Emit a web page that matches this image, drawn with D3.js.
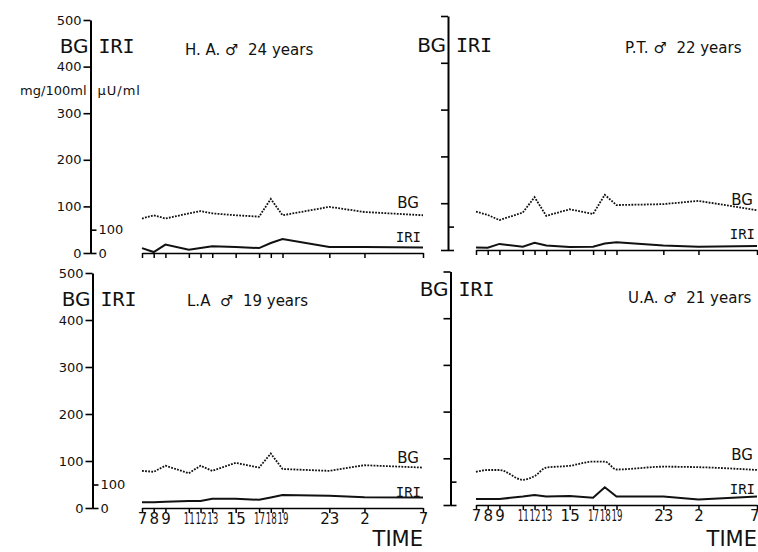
<!DOCTYPE html>
<html>
<head>
<meta charset="utf-8">
<script src="https://cdn.jsdelivr.net/npm/d3@7"></script>
<style>
body { margin: 0; background: #fff; }
svg text { font-family: "DejaVu Sans", sans-serif; fill: #111; white-space: pre; }
svg .mono { font-family: "DejaVu Sans Mono", monospace; }
</style>
</head>
<body>
<svg id="chart" width="758" height="552"></svg>
<script>
// sampling times (hours from 7 am, next morning = 31) and their labels
var times = [7, 8, 9, 11, 12, 13, 15, 17, 18, 19, 23, 26, 31];
var timeLabels = ["7", "8", "9", "11", "12", "13", "15", "17", "18", "19", "23", "2", "7"];
var bgTicks = [0, 100, 200, 300, 400, 500];
var iriTicks = [0, 100];

var subjects = ["H. A.", "P.T.", "L.A ", "U.A."];
var ages = ["24 years", "22 years", "19 years", "21 years"];

// blood glucose mg/100ml and insulin uU/ml
var bgHA  = [74, 81, 74, 85, 90, 85, 81, 78, 116, 81, 99, 88, 81];
var iriHA = [21, 4, 36, 14, 21, 29, 26, 21, 43, 60, 26, 26, 24];
var bgPT  = [82, 75, 64, 80, 113, 73, 87, 77, 118, 96, 98, 105, 85];
var iriPT = [11, 10, 26, 14, 31, 19, 13, 14, 28, 33, 19, 14, 17];
var bgLA  = [79, 77, 90, 74, 90, 79, 96, 86, 116, 83, 79, 91, 86];
var iriLA = [25, 25, 27, 30, 30, 39, 39, 35, 45, 55, 52, 46, 45];
var bgUA  = [71, 75, 75, 54, 62, 80, 84, 93, 93, 76, 82, 81, 75];
var iriUA = [26, 26, 26, 36, 43, 36, 39, 31, 76, 36, 36, 24, 36];

var panels = [
  {bg: bgHA, iri: iriHA, ax: 90.5, x0: 142, x1: 423, y0: 253, y5: 20, left: true, bottom: false, headY: 53, titleX: 185, titleY: 55},
  {bg: bgPT, iri: iriPT, ax: 448, x0: 476, x1: 757, y0: 250, y5: 16, left: false, bottom: false, headY: 52, titleX: 625, titleY: 53},
  {bg: bgLA, iri: iriLA, ax: 92.5, x0: 142, x1: 423, y0: 508, y5: 273, left: true, bottom: true, headY: 306, titleX: 187, titleY: 306},
  {bg: bgUA, iri: iriUA, ax: 450.5, x0: 476, x1: 757, y0: 505, y5: 271.5, left: false, bottom: true, headY: 296, titleX: 628, titleY: 303}
];

var svg = d3.select("#chart");

// two-digit labels with a neighbour one hour away get squeezed
function crowded(i) {
  if (timeLabels[i].length < 2) return false;
  return (i > 0 && times[i] - times[i - 1] <= 1) || (i < times.length - 1 && times[i + 1] - times[i] <= 1);
}

panels.forEach(function (p, k) {
  var x = d3.scaleLinear().domain([7, 31]).range([p.x0, p.x1]);
  var y = d3.scaleLinear().domain([0, 500]).range([p.y0, p.y5]);
  var yi = d3.scaleLinear().domain([0, 100]).range([p.y0, y(50)]);
  var g = svg.append("g");

  // BG axis (left ticks)
  var ya = g.append("g")
    .attr("transform", "translate(" + p.ax + ",0)")
    .call(d3.axisLeft(y).tickValues(bgTicks).tickSize(7).tickSizeOuter(0).tickPadding(2)
      .tickFormat(function (d) { return p.left ? d : ""; }));
  ya.select(".domain").attr("stroke-width", 2);
  ya.selectAll("line").attr("stroke-width", 1.6);
  ya.selectAll("text").attr("font-size", 13).attr("font-family", "DejaVu Sans");

  // IRI axis (right ticks)
  var yb = g.append("g")
    .attr("transform", "translate(" + p.ax + ",0)")
    .call(d3.axisRight(yi).tickValues(iriTicks).tickSize(6).tickSizeOuter(0).tickPadding(2)
      .tickFormat(function (d) { return p.left ? d : ""; }));
  yb.select(".domain").remove();
  yb.selectAll("line").attr("stroke-width", 1.6);
  yb.selectAll("text").attr("font-size", 13).attr("font-family", "DejaVu Sans");

  // time axis
  var xa = g.append("g")
    .attr("transform", "translate(0," + p.y0 + ")")
    .call(d3.axisBottom(x).tickValues(times).tickSize(5).tickSizeOuter(0).tickPadding(0)
      .tickFormat(function (d, i) { return p.bottom ? timeLabels[i] : ""; }));
  xa.select(".domain").attr("stroke-width", 1.6);
  xa.selectAll("line").attr("stroke-width", 1.5);
  xa.selectAll("text").attr("font-size", 15).attr("font-family", "Liberation Sans")
    .attr("textLength", function (d, i) { return crowded(i) ? 11 : null; })
    .attr("lengthAdjust", "spacingAndGlyphs");
  if (p.x1 > 700) {
    // last label sits at the page edge
    xa.selectAll(".tick").filter(function (d, i) { return i == times.length - 1; })
      .select("text").attr("text-anchor", "end").attr("x", 2);
  }

  // lines
  var bgLine = d3.line()
    .x(function (d, i) { return x(times[i]); })
    .y(function (d) { return y(d); })
    .curve(k == 3 ? d3.curveMonotoneX : d3.curveLinear);
  var iriLine = d3.line()
    .x(function (d, i) { return x(times[i]); })
    .y(function (d) { return yi(d); });

  g.append("path").datum(p.bg).attr("d", bgLine)
    .attr("fill", "none").attr("stroke", "#111").attr("stroke-width", 1.8)
    .attr("stroke-dasharray", "1.8,1.3");
  g.append("path").datum(p.iri).attr("d", iriLine)
    .attr("fill", "none").attr("stroke", "#111").attr("stroke-width", 2);

  // line labels at right end
  g.append("text").attr("x", p.x1 - 4).attr("y", p.y0 - 45)
    .attr("text-anchor", "end").attr("font-size", 15).text("BG");
  g.append("text").attr("class", "mono").attr("x", p.x1 - 2).attr("y", p.y0 - 11)
    .attr("text-anchor", "end").attr("font-size", 14).text("IRI");

  // headings
  g.append("text").attr("x", p.ax - 2).attr("y", p.headY)
    .attr("text-anchor", "end").attr("font-size", 20).text("BG");
  g.append("text").attr("class", "mono").attr("x", p.ax + 8).attr("y", p.headY)
    .attr("font-size", 20).text("IRI");
  g.append("text").attr("x", p.titleX).attr("y", p.titleY)
    .attr("font-size", 15).text(subjects[k] + " \u2642  " + ages[k]);

  if (k == 0) {
    g.append("text").attr("x", p.ax - 4).attr("y", 95)
      .attr("text-anchor", "end").attr("font-size", 13).text("mg/100ml");
    g.append("text").attr("x", p.ax + 7).attr("y", 95)
      .attr("font-size", 13).attr("letter-spacing", 1).text("\u03bcU/ml");
  }

  if (p.bottom) {
    g.append("text").attr("x", p.x1).attr("y", 546)
      .attr("text-anchor", "end").attr("font-size", 21).text("TIME");
  }
});
</script>
</body>
</html>
